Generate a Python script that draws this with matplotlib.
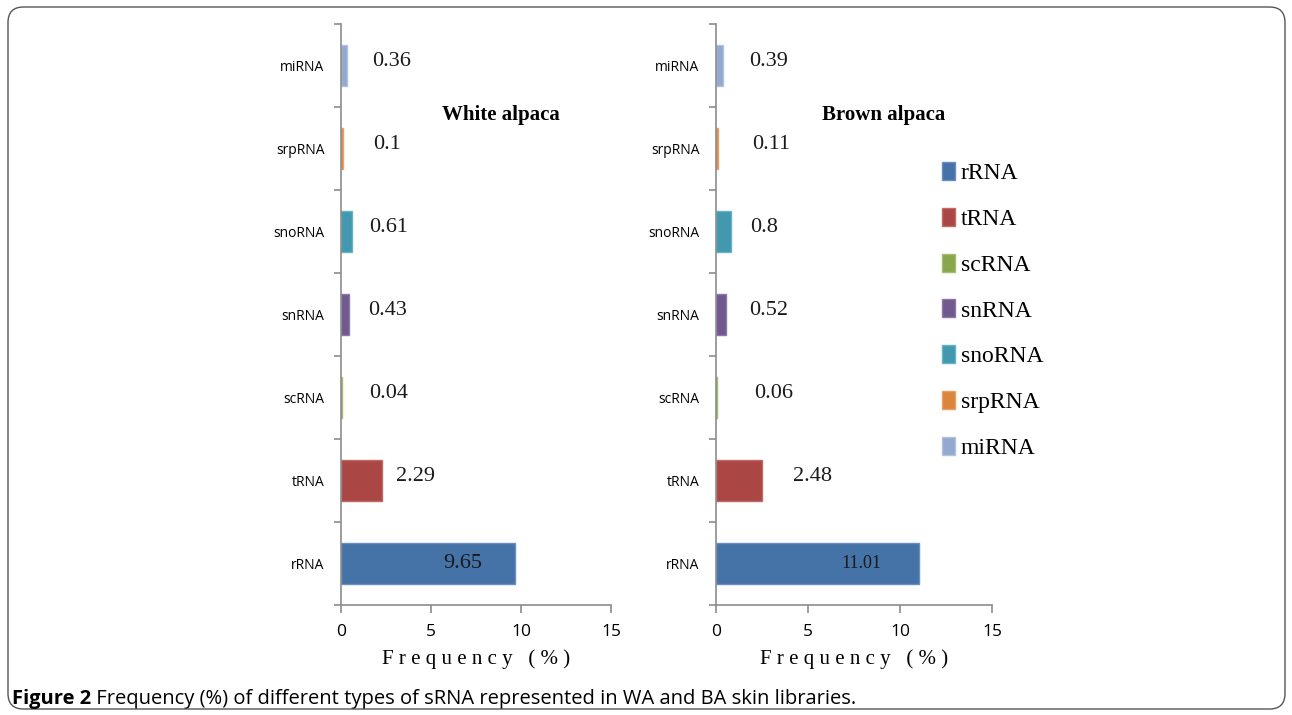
import matplotlib
matplotlib.use("Agg")
import matplotlib.pyplot as plt
from matplotlib.patches import FancyBboxPatch, Patch

# data (bottom -> top as drawn)
rna_types = ["rRNA", "tRNA", "scRNA", "snRNA", "snoRNA", "srpRNA", "miRNA"]
white_freq = [9.65, 2.29, 0.04, 0.43, 0.61, 0.10, 0.36]
brown_freq = [11.01, 2.48, 0.06, 0.52, 0.80, 0.11, 0.39]
white_labels = ["9.65", "2.29", "0.04", "0.43", "0.61", "0.1", "0.36"]
brown_labels = ["11.01", "2.48", "0.06", "0.52", "0.8", "0.11", "0.39"]
x_ticks = [0, 5, 10, 15]

COLORS = ["#4572A7", "#AA4643", "#89A54E", "#71588F", "#4198AF", "#DB843D", "#93A9CF"]
EDGES = ["#6A8EBF", "#C06A67", "#A3BE6E", "#8E78A8", "#66B2C6", "#E9A066", "#B0C2E0"]
SPINE = "#8C8C8C"
SERIF = "Liberation Serif"
SANS = "Open Sans"

# label nudges in pixels (hand-placed in the original)
WA_DX = [0, 14, 27, 19, 17, 30, 25]
BA_DX = [0, 31, 37, 24, 19, 34, 26]

fig = plt.figure(figsize=(12.92, 7.15), dpi=100)

# rounded frame around whole figure
fig.patches.append(FancyBboxPatch((8 / 1292, 6 / 715), 1277 / 1292, 702 / 715,
                                  boxstyle="round,pad=0,rounding_size=0.012",
                                  mutation_aspect=1292 / 715,
                                  transform=fig.transFigure, facecolor="none",
                                  edgecolor="#555555", linewidth=1.0, zorder=0))

ax1 = fig.add_axes([341 / 1292, 110 / 715, 270 / 1292, 581 / 715])
ax2 = fig.add_axes([716 / 1292, 110 / 715, 276 / 1292, 581 / 715])


def panel(ax, vals, labels, dxs, inside_frac, inside_fs, title, tx):
    ypos = range(len(rna_types))
    ax.barh(ypos, vals, height=0.5, color=COLORS, edgecolor=EDGES,
            linewidth=1.0, zorder=2)
    ax.set_xlim(0, 15)
    ax.set_ylim(-0.5, len(rna_types) - 0.5)
    ax.set_xticks(x_ticks)
    ax.set_xticklabels([str(t) for t in x_ticks], fontsize=12.5, family=SANS)
    ax.set_yticks(list(ypos))
    ax.set_yticklabels(rna_types, fontsize=10, family=SANS)
    ax.set_yticks([i - 0.5 for i in range(len(rna_types) + 1)], minor=True)
    ax.tick_params(axis="y", which="major", length=0, pad=12)
    ax.tick_params(axis="y", which="minor", length=5, color=SPINE, width=1.2)
    ax.tick_params(axis="x", length=6, color=SPINE, width=1.2, pad=8)
    for s in ["top", "right"]:
        ax.spines[s].set_visible(False)
    for s in ["left", "bottom"]:
        ax.spines[s].set_color(SPINE)
        ax.spines[s].set_linewidth(1.2)
    ax.set_xlabel("F r e q u e n c y   ( % )", family=SERIF, fontsize=15,
                  labelpad=6)

    for i, (v, lab) in enumerate(zip(vals, labels)):
        if i == 0:
            ax.text(v * inside_frac, i, lab, ha="center", va="center",
                    family=SERIF, fontsize=inside_fs, color="#1a1a1a", zorder=3)
        else:
            ax.annotate(lab, (v, i), xytext=(dxs[i], 4),
                        textcoords="offset pixels", ha="left", va="center",
                        family=SERIF, fontsize=16, color="#1a1a1a")
    ax.text(tx, 5.4, title, ha="center", va="center", family=SERIF,
            fontsize=15, fontweight="bold")


panel(ax1, white_freq, white_labels, WA_DX, 0.70, 16, "White alpaca", 8.9)
panel(ax2, brown_freq, brown_labels, BA_DX, 0.72, 13, "Brown alpaca", 9.1)

# legend (top -> bottom)
handles = [Patch(facecolor=c, edgecolor=e) for c, e in zip(COLORS, EDGES)]
fig.legend(handles, rna_types, loc="upper left",
           bbox_to_anchor=(930 / 1292, 1 - 150 / 715), frameon=False,
           prop={"family": SERIF, "size": 17}, handlelength=0.55,
           handleheight=0.8, handletextpad=0.25, labelspacing=1.0,
           borderpad=0)

# caption
t1 = fig.text(12 / 1292, 1 - 704 / 715, "Figure 2", family=SANS,
              fontweight="bold", fontsize=14.5, ha="left", va="baseline")
ax1.annotate(" Frequency (%) of different types of sRNA represented in WA and BA skin libraries.",
             xy=(1, 0), xycoords=t1, ha="left", va="bottom", family=SANS,
             fontsize=14.5, annotation_clip=False)

fig.savefig("out.png", dpi=100, facecolor="white")
